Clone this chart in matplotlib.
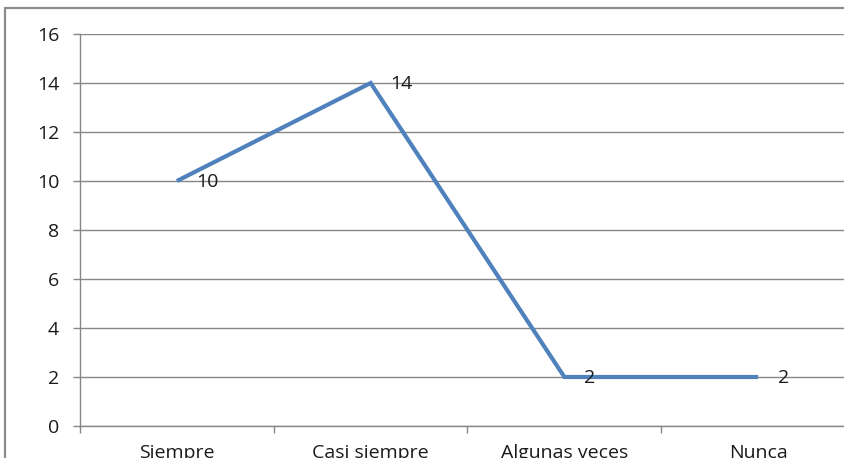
import matplotlib
matplotlib.use("Agg")
import matplotlib.pyplot as plt
from matplotlib.patches import Rectangle

categories = ["Siempre", "Casi siempre", "Algunas veces", "Nunca"]
values = [10, 14, 2, 2]
y_ticks = [0, 2, 4, 6, 8, 10, 12, 14, 16]

plt.rcParams["font.family"] = ["Open Sans", "DejaVu Sans"]
FS = 14

fig = plt.figure(figsize=(8.45, 4.58), dpi=100)

# outer chart border (right and bottom fall outside the image)
fig.patches.append(Rectangle((5 / 845, -0.1), 1.0, (458 - 8) / 458 + 0.1,
                             transform=fig.transFigure, fill=False,
                             edgecolor="#8c8c8c", linewidth=1.6))

ax = fig.add_axes([80 / 845, 32 / 458, 775 / 845, 392 / 458])
x = list(range(len(categories)))
ax.plot(x, values, color="#4f81bd", linewidth=3, solid_joinstyle="miter",
        solid_capstyle="butt", zorder=3)

for xi, v in zip(x, values):
    ax.annotate(str(v), (xi, v), xytext=(14, -1), textcoords="offset points",
                ha="left", va="center", fontsize=FS, color="#1a1a1a")

ax.set_xlim(-0.5, len(categories) - 0.5)
ax.set_ylim(0, 16)
ax.set_yticks(y_ticks)
ax.set_xticks(x)
ax.set_xticklabels(categories)
ax.set_xticks([i - 0.5 for i in range(len(categories) + 1)], minor=True)
ax.tick_params(axis="x", which="major", length=0, pad=13, labelsize=FS,
               colors="#1a1a1a")
ax.tick_params(axis="x", which="minor", length=5, color="#868686", width=1)
ax.tick_params(axis="y", length=5, color="#868686", width=1, pad=10,
               labelsize=FS, labelcolor="#1a1a1a")

ax.grid(axis="y", color="#868686", linewidth=1)
ax.set_axisbelow(True)
for side in ["top", "right"]:
    ax.spines[side].set_visible(False)
for side in ["left", "bottom"]:
    ax.spines[side].set_color("#868686")
    ax.spines[side].set_linewidth(1)

fig.savefig("out.png", dpi=100)
